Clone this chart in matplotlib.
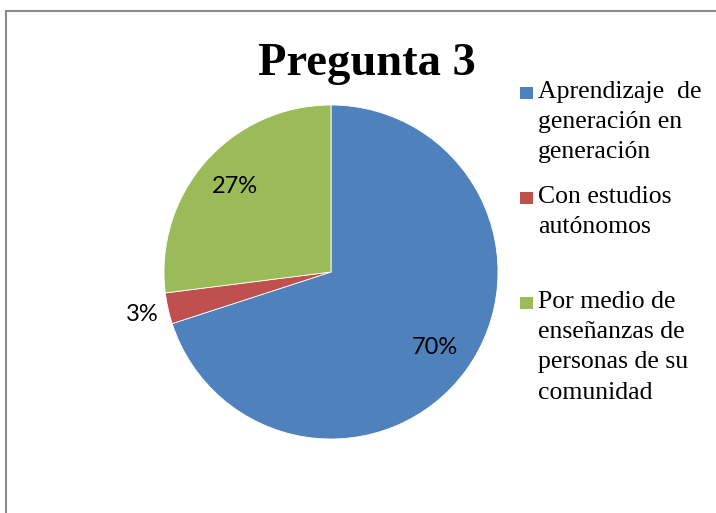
import matplotlib
matplotlib.use("Agg")
import matplotlib.pyplot as plt
from matplotlib.patches import Rectangle
import numpy as np

title = "Pregunta 3"
categories = ["Aprendizaje  de\ngeneración en\ngeneración",
              "Con estudios\nautónomos",
              "Por medio de\nenseñanzas de\npersonas de su\ncomunidad"]
values = [70, 3, 27]
colors = ["#4F81BD", "#C0504D", "#9BBB59"]

W, H = 716, 513
fig = plt.figure(figsize=(W / 100, H / 100), dpi=100)

# chart border (cut off at right and bottom like the reference)
fig.patches.append(Rectangle((6 / W, -0.1), 1.2, 1 - 11 / H + 0.1, transform=fig.transFigure,
                             fill=False, edgecolor="#8C8C8C", linewidth=1.5))

cx, cy, r = 331, 272, 167
ax = fig.add_axes([(cx - r) / W, (H - cy - r) / H, 2 * r / W, 2 * r / H])
wedges, texts, autotexts = ax.pie(values, colors=colors, startangle=90, counterclock=False,
                                  autopct="%1.0f%%", pctdistance=0.77,
                                  wedgeprops=dict(edgecolor="white", linewidth=0.6),
                                  textprops=dict(fontsize=17, family="Lato", color="black"))
ax.set_xlim(-1, 1)
ax.set_ylim(-1, 1)
ax.set_aspect("equal")
ax.axis("off")

# small slice label placed outside (best-fit)
for w, t, v in zip(wedges, autotexts, values):
    if v / sum(values) < 0.05:
        ang = np.deg2rad((w.theta1 + w.theta2) / 2)
        t.set_position((1.16 * np.cos(ang), 1.16 * np.sin(ang)))

fig.text(367 / W, 1 - 75 / H, title, ha="center", va="baseline",
         fontsize=33.5, fontweight="bold", family="Liberation Serif")

# legend drawn manually
entry_tops = [92, 197, 302]
line_h = 30.2
for cat, col, top in zip(categories, colors, entry_tops):
    fig.patches.append(Rectangle((520 / W, 1 - (top + 7) / H), 13 / W, 12 / H,
                                 transform=fig.transFigure, facecolor=col, edgecolor="none"))
    for i, line in enumerate(cat.split("\n")):
        fig.text(538 / W, 1 - (top + i * line_h) / H, line, ha="left", va="center",
                 fontsize=18.5, family="Liberation Serif")

fig.savefig("out.png", dpi=100)
